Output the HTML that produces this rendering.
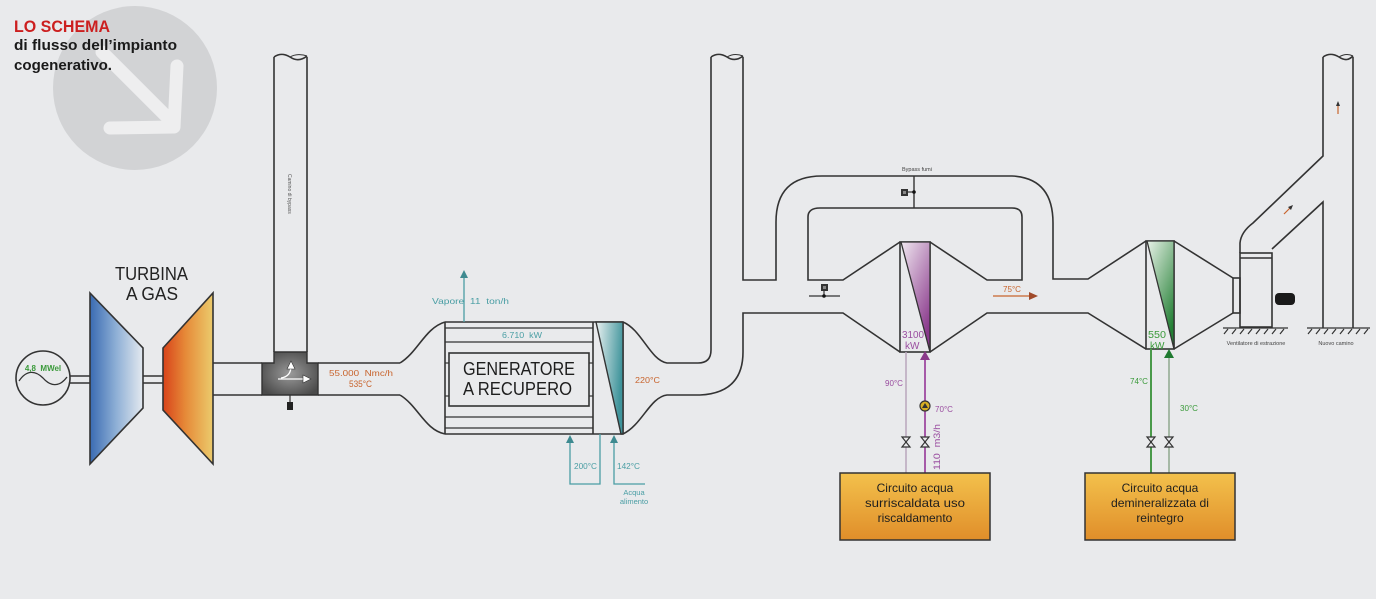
<!DOCTYPE html>
<html><head><meta charset="utf-8"><style>
html,body{margin:0;padding:0;background:#e9eaec;}
svg{display:block;font-family:"Liberation Sans",sans-serif;}
</style></head><body>
<svg width="1376" height="599" viewBox="0 0 1376 599" xmlns="http://www.w3.org/2000/svg">
<defs>
<linearGradient id="gBlue" x1="0" y1="0" x2="1" y2="0"><stop offset="0" stop-color="#3a6bb2"/><stop offset="0.5" stop-color="#8fb0d6"/><stop offset="1" stop-color="#e4e9ef"/></linearGradient>
<linearGradient id="gOr" x1="0" y1="0" x2="1" y2="0"><stop offset="0" stop-color="#d8431a"/><stop offset="0.45" stop-color="#e68a38"/><stop offset="1" stop-color="#ebcb6c"/></linearGradient>
<radialGradient id="gBox" cx="0.5" cy="0.5" r="0.6"><stop offset="0" stop-color="#9a9a9a"/><stop offset="1" stop-color="#4a4a4a"/></radialGradient>
<linearGradient id="gTeal" x1="0" y1="0" x2="1" y2="0.3"><stop offset="0" stop-color="#eaf1f1"/><stop offset="1" stop-color="#3f949b"/></linearGradient>
<linearGradient id="gPur" x1="0" y1="0" x2="0.6" y2="1"><stop offset="0" stop-color="#f0e8f0"/><stop offset="1" stop-color="#8a3a8c"/></linearGradient>
<linearGradient id="gGrn" x1="0" y1="0" x2="0.6" y2="1"><stop offset="0" stop-color="#e9f2e9"/><stop offset="1" stop-color="#237f34"/></linearGradient>
<linearGradient id="gYel" x1="0" y1="0" x2="0" y2="1"><stop offset="0" stop-color="#f3c14c"/><stop offset="1" stop-color="#e08e2a"/></linearGradient>
</defs>
<rect width="1376" height="599" fill="#e9eaec"/>

<!-- logo circle -->
<circle cx="135" cy="88" r="82" fill="#d2d3d5"/>
<g stroke="#eeeeef" stroke-width="13" stroke-linecap="round" fill="none" stroke-linejoin="round">
<line x1="102" y1="52" x2="166" y2="116"/>
<polyline points="110,128 174,127 177,66"/>
</g>
<text x="14" y="32" font-size="17" font-weight="bold" fill="#cc1f1f" textLength="96" lengthAdjust="spacingAndGlyphs">LO SCHEMA</text>
<text x="14" y="50" font-size="15" font-weight="bold" fill="#1a1a1a" textLength="163" lengthAdjust="spacingAndGlyphs">di flusso dell’impianto</text>
<text x="14" y="70" font-size="15" font-weight="bold" fill="#1a1a1a" textLength="98" lengthAdjust="spacingAndGlyphs">cogenerativo.</text>

<g stroke="#333" stroke-width="1.6" fill="none">
<!-- generator -->
<circle cx="43" cy="378" r="27"/>
<path d="M19,381 C27,369 36,371 43,378 C50,386 59,388 67,377" stroke-width="1.3"/>
<line x1="70" y1="376" x2="90" y2="376"/><line x1="70" y1="383" x2="90" y2="383"/>
<line x1="143" y1="376" x2="163" y2="376"/><line x1="143" y1="383" x2="163" y2="383"/>
</g>
<text x="43" y="371" font-size="8" font-weight="bold" fill="#3a9a3a" text-anchor="middle">4,8 &#160;MWel</text>

<polygon points="90,293 143,348 143,408 90,464" fill="url(#gBlue)" stroke="#333" stroke-width="1.6"/>
<polygon points="163,348 213,293 213,464 163,410" fill="url(#gOr)" stroke="#333" stroke-width="1.6"/>
<text x="115" y="280" font-size="18" fill="#222" textLength="73" lengthAdjust="spacingAndGlyphs">TURBINA</text>
<text x="126" y="300" font-size="18" fill="#222" textLength="52" lengthAdjust="spacingAndGlyphs">A GAS</text>

<g stroke="#333" stroke-width="1.6" fill="none">
<line x1="213" y1="363" x2="262" y2="363"/><line x1="213" y1="395" x2="262" y2="395"/>
<line x1="274" y1="57" x2="274" y2="352"/><line x1="307" y1="57" x2="307" y2="352"/>
<path d="M274,57 C280,53 285,54 290,57 C296,61 302,60 307,56"/>
<path d="M290,57 C295,54 302,54 307,56" stroke-width="1"/>
<line x1="318" y1="363" x2="400" y2="363"/><line x1="318" y1="395" x2="400" y2="395"/>
</g>
<polygon points="274,352 307,352 307,363 318,363 318,395 262,395 262,363 274,363" fill="url(#gBox)" stroke="#333" stroke-width="1.4"/>
<g stroke="#fff" stroke-width="1.3" fill="none">
<path d="M281,378 C288,377 291,373 291,366"/>
<line x1="278" y1="379" x2="304" y2="379"/>
</g>
<polygon points="287,369 295,369 291,361" fill="#fff" stroke="#333" stroke-width="0.6"/>
<polygon points="303,375 303,383 311,379" fill="#fff" stroke="#333" stroke-width="0.6"/>
<line x1="290" y1="395" x2="290" y2="402" stroke="#333" stroke-width="1.2"/>
<rect x="287" y="402" width="6" height="8" fill="#222"/>
<text font-size="5" fill="#555" transform="translate(288,174) rotate(90)">Camino di bypass</text>
<text x="329" y="376" font-size="8.5" fill="#c8642d" textLength="64" lengthAdjust="spacingAndGlyphs">55.000 &#160;Nmc/h</text>
<text x="349" y="387" font-size="9" fill="#c8642d" textLength="23" lengthAdjust="spacingAndGlyphs">535°C</text>

<!-- HRSG -->
<g stroke="#333" stroke-width="1.6" fill="none">
<path d="M400,363 C418,352 425,328 445,322"/>
<path d="M400,395 C418,406 425,430 445,434"/>
<line x1="445" y1="322" x2="623" y2="322"/><line x1="445" y1="434" x2="623" y2="434"/>
<line x1="445" y1="322" x2="445" y2="434"/><line x1="593" y1="322" x2="593" y2="434"/><line x1="623" y1="322" x2="623" y2="434"/>
<g stroke-width="1.2">
<line x1="445" y1="328" x2="593" y2="328"/><line x1="445" y1="342" x2="593" y2="342"/>
<line x1="445" y1="417" x2="593" y2="417"/><line x1="445" y1="428" x2="593" y2="428"/>
<line x1="445" y1="363" x2="449" y2="363"/><line x1="445" y1="396" x2="449" y2="396"/>
<line x1="589" y1="363" x2="593" y2="363"/><line x1="589" y1="396" x2="593" y2="396"/>
</g>
<rect x="449" y="353" width="140" height="53"/>
</g>
<polygon points="596,322 623,322 623,434 621,434" fill="url(#gTeal)" stroke="#333" stroke-width="1.4"/>
<text x="463" y="375" font-size="18" fill="#1e1e1e" textLength="112" lengthAdjust="spacingAndGlyphs">GENERATORE</text>
<text x="463" y="395" font-size="18" fill="#1e1e1e" textLength="109" lengthAdjust="spacingAndGlyphs">A RECUPERO</text>
<text x="502" y="338" font-size="8.5" fill="#4a9ea4" textLength="40" lengthAdjust="spacingAndGlyphs">6.710 &#160;kW</text>

<g stroke="#4a9ea4" stroke-width="1.3" fill="none">
<line x1="464" y1="322" x2="464" y2="277"/>
<polyline points="570,442 570,484 600,484 600,434"/>
<polyline points="614,442 614,484 645,484"/>
</g>
<polygon points="460,278 468,278 464,270" fill="#3e8a90"/>
<polygon points="566,443 574,443 570,435" fill="#3e8a90"/>
<polygon points="610,443 618,443 614,435" fill="#3e8a90"/>
<text x="432" y="304" font-size="8.5" fill="#4a9ea4" textLength="77" lengthAdjust="spacingAndGlyphs">Vapore &#160;11 &#160;ton/h</text>
<text x="574" y="469" font-size="8.5" fill="#4a9ea4" textLength="23" lengthAdjust="spacingAndGlyphs">200°C</text>
<text x="617" y="469" font-size="8.5" fill="#4a9ea4" textLength="23" lengthAdjust="spacingAndGlyphs">142°C</text>
<text x="634" y="495" font-size="7.5" fill="#4a9ea4" text-anchor="middle">Acqua</text>
<text x="634" y="504" font-size="7.5" fill="#4a9ea4" text-anchor="middle">alimento</text>
<text x="635" y="383" font-size="8.5" fill="#c8642d" textLength="25" lengthAdjust="spacingAndGlyphs">220°C</text>

<!-- ducts middle -->
<g stroke="#333" stroke-width="1.6" fill="none">
<path d="M623,322 C642,330 650,360 667,363 L698,363 Q711,363 711,350 L711,57"/>
<path d="M711,57 C717,53 722,54 727,57 C733,61 738,60 743,56"/>
<path d="M727,57 C732,54 738,54 743,56" stroke-width="1"/>
<path d="M623,434 C642,425 650,397 667,395 L700,395 Q743,393 743,352 L743,313 L843,313 L900,352"/>
<path d="M743,57 L743,280 L776,280 L776,222 Q776,176 822,176 L1012,176 Q1053,178 1053,223 L1053,279 L1088,279 L1146,241"/>
<path d="M900,242 L843,280 L808,280 L808,217 Q808,208 820,208 L1012,208 Q1022,208 1022,217 L1022,280 L987,280 L930,242"/>
<path d="M930,352 L987,313 L1088,313 L1146,349"/>
<path d="M1174,241 L1233,278 M1174,349 L1233,313"/>
<rect x="1233" y="278" width="7" height="35"/>
<rect x="1240" y="253" width="32" height="74"/>
<line x1="1240" y1="258" x2="1272" y2="258"/>
<path d="M1240,253 L1240,243 Q1241,232 1253,223 L1323,156 L1323,57"/>
<path d="M1272,249 L1323,202 L1323,328"/>
<line x1="1353" y1="57" x2="1353" y2="328"/>
<path d="M1323,57 C1329,53 1334,54 1339,57 C1345,61 1349,60 1353,56"/>
<path d="M1339,57 C1344,54 1349,54 1353,56" stroke-width="1"/>
</g>
<rect x="1275" y="293" width="20" height="12" rx="4" fill="#1a1a1a"/>

<!-- ground -->
<g stroke="#333" stroke-width="1.2">
<line x1="1223" y1="328" x2="1288" y2="328"/>
<line x1="1307" y1="328" x2="1370" y2="328"/>
<path d="M1228,329 l-4,5 M1236,329 l-4,5 M1244,329 l-4,5 M1252,329 l-4,5 M1260,329 l-4,5 M1268,329 l-4,5 M1276,329 l-4,5 M1284,329 l-4,5 M1312,329 l-4,5 M1320,329 l-4,5 M1328,329 l-4,5 M1336,329 l-4,5 M1344,329 l-4,5 M1352,329 l-4,5 M1360,329 l-4,5 M1368,329 l-4,5"/>
</g>
<text x="1256" y="345" font-size="5.5" fill="#444" text-anchor="middle">Ventilatore di estrazione</text>
<text x="1336" y="345" font-size="5.5" fill="#444" text-anchor="middle">Nuovo camino</text>
<line x1="1338" y1="114" x2="1338" y2="105" stroke="#c8642d" stroke-width="1.2"/>
<polygon points="1336,106 1340,106 1338,101" fill="#333"/>
<line x1="1284" y1="214" x2="1290" y2="208" stroke="#c8642d" stroke-width="1.2"/>
<polygon points="1288,207 1291,210 1293,205" fill="#333"/>

<!-- HX1 purple -->
<rect x="900" y="242" width="30" height="110" fill="none" stroke="#333" stroke-width="1.6"/>
<polygon points="901,242 930,242 930,352" fill="url(#gPur)" stroke="#333" stroke-width="1.3"/>
<text x="902" y="338" font-size="10" fill="#9a4ea0" textLength="22" lengthAdjust="spacingAndGlyphs">3100</text>
<text x="905" y="349" font-size="10" fill="#9a4ea0">kW</text>
<!-- HX2 green -->
<rect x="1146" y="241" width="28" height="108" fill="none" stroke="#333" stroke-width="1.6"/>
<polygon points="1147,241 1174,241 1174,349" fill="url(#gGrn)" stroke="#333" stroke-width="1.3"/>
<text x="1148" y="338" font-size="10" fill="#3a9a3a" textLength="18" lengthAdjust="spacingAndGlyphs">550</text>
<text x="1150" y="349" font-size="10" fill="#3a9a3a">kW</text>

<!-- bypass dampers -->
<line x1="914" y1="176" x2="914" y2="208" stroke="#333" stroke-width="1.4"/>
<line x1="907" y1="192" x2="914" y2="192" stroke="#333" stroke-width="1.2"/>
<circle cx="914" cy="192" r="1.8" fill="#111"/>
<rect x="901" y="189" width="7" height="7" fill="#333"/><rect x="903" y="191" width="3" height="3" fill="#888"/>
<text x="917" y="171" font-size="5.5" fill="#444" text-anchor="middle">Bypass fumi</text>
<rect x="821" y="284" width="7" height="7" fill="#333"/><rect x="823" y="286" width="3" height="3" fill="#888"/>
<line x1="824" y1="291" x2="824" y2="296" stroke="#333" stroke-width="1.2"/>
<line x1="809" y1="296" x2="840" y2="296" stroke="#333" stroke-width="1.2"/>
<circle cx="824" cy="296" r="1.8" fill="#111"/>
<text x="1003" y="292" font-size="8.5" fill="#c8642d" textLength="18" lengthAdjust="spacingAndGlyphs">75°C</text>
<line x1="993" y1="296" x2="1030" y2="296" stroke="#c8642d" stroke-width="1.2"/>
<polygon points="1029,292 1029,300 1038,296" fill="#a04a2a"/>

<!-- purple circuit -->
<line x1="906" y1="352" x2="906" y2="473" stroke="#b9a6bd" stroke-width="1.5"/>
<line x1="925" y1="359" x2="925" y2="473" stroke="#a65aa8" stroke-width="2"/>
<polygon points="920,360 930,360 925,351" fill="#8a3a8a"/>
<circle cx="925" cy="406" r="5" fill="#d8b024" stroke="#333" stroke-width="1.2"/>
<polygon points="922,408 928,408 925,403" fill="#333"/>
<text x="885" y="386" font-size="8.5" fill="#9a4ea0" textLength="18" lengthAdjust="spacingAndGlyphs">90°C</text>
<text x="935" y="412" font-size="8.5" fill="#9a4ea0" textLength="18" lengthAdjust="spacingAndGlyphs">70°C</text>
<text font-size="9" fill="#9a4ea0" transform="translate(940,470) rotate(-90)" textLength="46" lengthAdjust="spacingAndGlyphs">110 &#160;m3/h</text>
<!-- green circuit -->
<line x1="1151" y1="349" x2="1151" y2="473" stroke="#4a9a4a" stroke-width="2"/>
<line x1="1169" y1="357" x2="1169" y2="473" stroke="#8fa98f" stroke-width="1.5"/>
<polygon points="1164,358 1174,358 1169,349" fill="#1f7a30"/>
<text x="1130" y="384" font-size="8.5" fill="#3a9a3a" textLength="18" lengthAdjust="spacingAndGlyphs">74°C</text>
<text x="1180" y="411" font-size="8.5" fill="#3a9a3a" textLength="18" lengthAdjust="spacingAndGlyphs">30°C</text>

<!-- valves -->
<g stroke="#333" stroke-width="1.2" fill="#e9eaec">
<path d="M902,437 L910,437 L902,447 L910,447 Z"/>
<path d="M921,437 L929,437 L921,447 L929,447 Z"/>
<path d="M1147,437 L1155,437 L1147,447 L1155,447 Z"/>
<path d="M1165,437 L1173,437 L1165,447 L1173,447 Z"/>
</g>

<!-- boxes -->
<rect x="840" y="473" width="150" height="67" fill="url(#gYel)" stroke="#333" stroke-width="1.5"/>
<text x="915" y="492" font-size="12" fill="#1e1e1e" text-anchor="middle">Circuito acqua</text>
<text x="915" y="507" font-size="12" fill="#1e1e1e" text-anchor="middle" textLength="100" lengthAdjust="spacingAndGlyphs">surriscaldata uso</text>
<text x="915" y="522" font-size="12" fill="#1e1e1e" text-anchor="middle">riscaldamento</text>
<rect x="1085" y="473" width="150" height="67" fill="url(#gYel)" stroke="#333" stroke-width="1.5"/>
<text x="1160" y="492" font-size="12" fill="#1e1e1e" text-anchor="middle">Circuito acqua</text>
<text x="1160" y="507" font-size="12" fill="#1e1e1e" text-anchor="middle" textLength="98" lengthAdjust="spacingAndGlyphs">demineralizzata di</text>
<text x="1160" y="522" font-size="12" fill="#1e1e1e" text-anchor="middle">reintegro</text>
</svg>
</body></html>
